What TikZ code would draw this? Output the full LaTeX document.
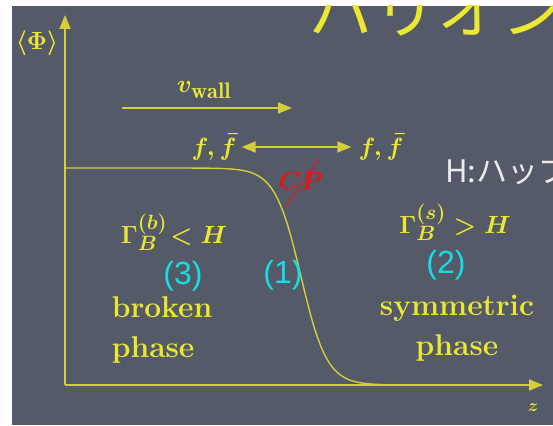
\documentclass[tikz,border=0pt]{standalone}
\usepackage{fontspec}
\newfontfamily\jpfont{Noto Sans CJK JP}
\newfontfamily\numfont{Liberation Sans}
\usetikzlibrary{arrows.meta}
\definecolor{board}{RGB}{84,90,104}
\definecolor{chalkyellow}{RGB}{236,232,50}
\definecolor{lineyellow}{RGB}{212,206,60}
\definecolor{chalkcyan}{RGB}{20,222,228}
\definecolor{chalkred}{RGB}{235,20,20}
\definecolor{chalkwhite}{RGB}{235,235,235}
\begin{document}
\begin{tikzpicture}[x=1pt,y=-1pt,
  tip/.style={-{Triangle[length=14pt,width=11pt]}},
  axisline/.style={draw=lineyellow,line width=1.8pt,tip},
  arrowline/.style={draw=lineyellow,line width=1.8pt,tip},
  dblline/.style={draw=lineyellow,line width=1.8pt,{Triangle[length=14pt,width=11pt]}-{Triangle[length=14pt,width=11pt]}},
  wallcurve/.style={draw=lineyellow,line width=1.4pt},
  ytext/.style={text=chalkyellow,inner sep=1pt,font=\boldmath\bfseries\fontsize{30}{40}\selectfont},
  ntext/.style={text=chalkcyan,inner sep=1pt,font=\numfont\fontsize{32}{36}\selectfont},
  ]
\useasboundingbox (0,0) rectangle (553,425);
\fill[white] (0,0) rectangle (553,425);
\fill[board] (12,6) rectangle (553,425);
\begin{scope}
\clip (12,6) rectangle (553,425);
\node[anchor=base west,inner sep=0pt,text=chalkyellow,font=\jpfont\fontsize{64}{70}\selectfont] (title) at (309,34) {バリオン};
\node[anchor=west,inner sep=0pt,text=chalkwhite,font=\jpfont\fontsize{31}{36}\selectfont] (hubble) at (445,170) {H:ハッブル};
\end{scope}
% axes
\coordinate (O) at (65,385);
\coordinate (ytip) at (65,15);
\coordinate (xtip) at (543,385);
\draw[axisline] (O) -- (ytip);
\draw[axisline] (O) -- (xtip);
\node[ytext,font=\boldmath\fontsize{24}{28}\selectfont] (phi) at (37,43) {$\langle\Phi\rangle$};
\node[ytext,font=\boldmath\fontsize{18}{20}\selectfont] (z) at (533,408) {$z$};
% wall profile
\draw[wallcurve] plot[domain=65:420,samples=120,smooth] (\x,{168+217*(1+tanh((\x-301)/26))/2});
% wall velocity
\node[ytext,font=\boldmath\fontsize{32}{36}\selectfont] (vw) at (204,90) {$v_{\rm wall}$};
\coordinate (vs) at (122,108);
\coordinate (ve) at (292,108);
\draw[arrowline] (vs) -- (ve);
% particles
\node[ytext,font=\boldmath\fontsize{34}{40}\selectfont] (fl) at (214,147) {$f,\bar f$};
\node[ytext,font=\boldmath\fontsize{34}{40}\selectfont] (fr) at (381,147) {$f,\bar f$};
\draw[dblline,shorten <=4pt,shorten >=6pt] (fl.east) -- (fr.west);
% CP
\node[text=chalkred,inner sep=0pt,font=\boldmath\fontsize{38}{42}\selectfont] (cp) at (301,181) {$CP$};
\draw[chalkred,line width=1pt] ([xshift=18pt,yshift=22pt]cp.center) -- ([xshift=-16pt,yshift=-26pt]cp.center);
% rates
\node[ytext,font=\boldmath\fontsize{31}{38}\selectfont] (gb) at (174,232) {$\Gamma_B^{(b)}\!< H$};
\node[ytext,font=\boldmath\fontsize{31}{38}\selectfont] (gs) at (455,222) {$\Gamma_B^{(s)} > H$};
% numbers
\node[ntext] (n3) at (183,276) {(3)};
\node[ntext] (n1) at (283,275) {(1)};
\node[ntext] (n2) at (446,265) {(2)};
% phases
\node[ytext,align=left] (broken) at (162,330) {broken\\phase};
\node[ytext,align=center] (sym) at (457,328) {symmetric\\phase};
\end{tikzpicture}
\end{document}
